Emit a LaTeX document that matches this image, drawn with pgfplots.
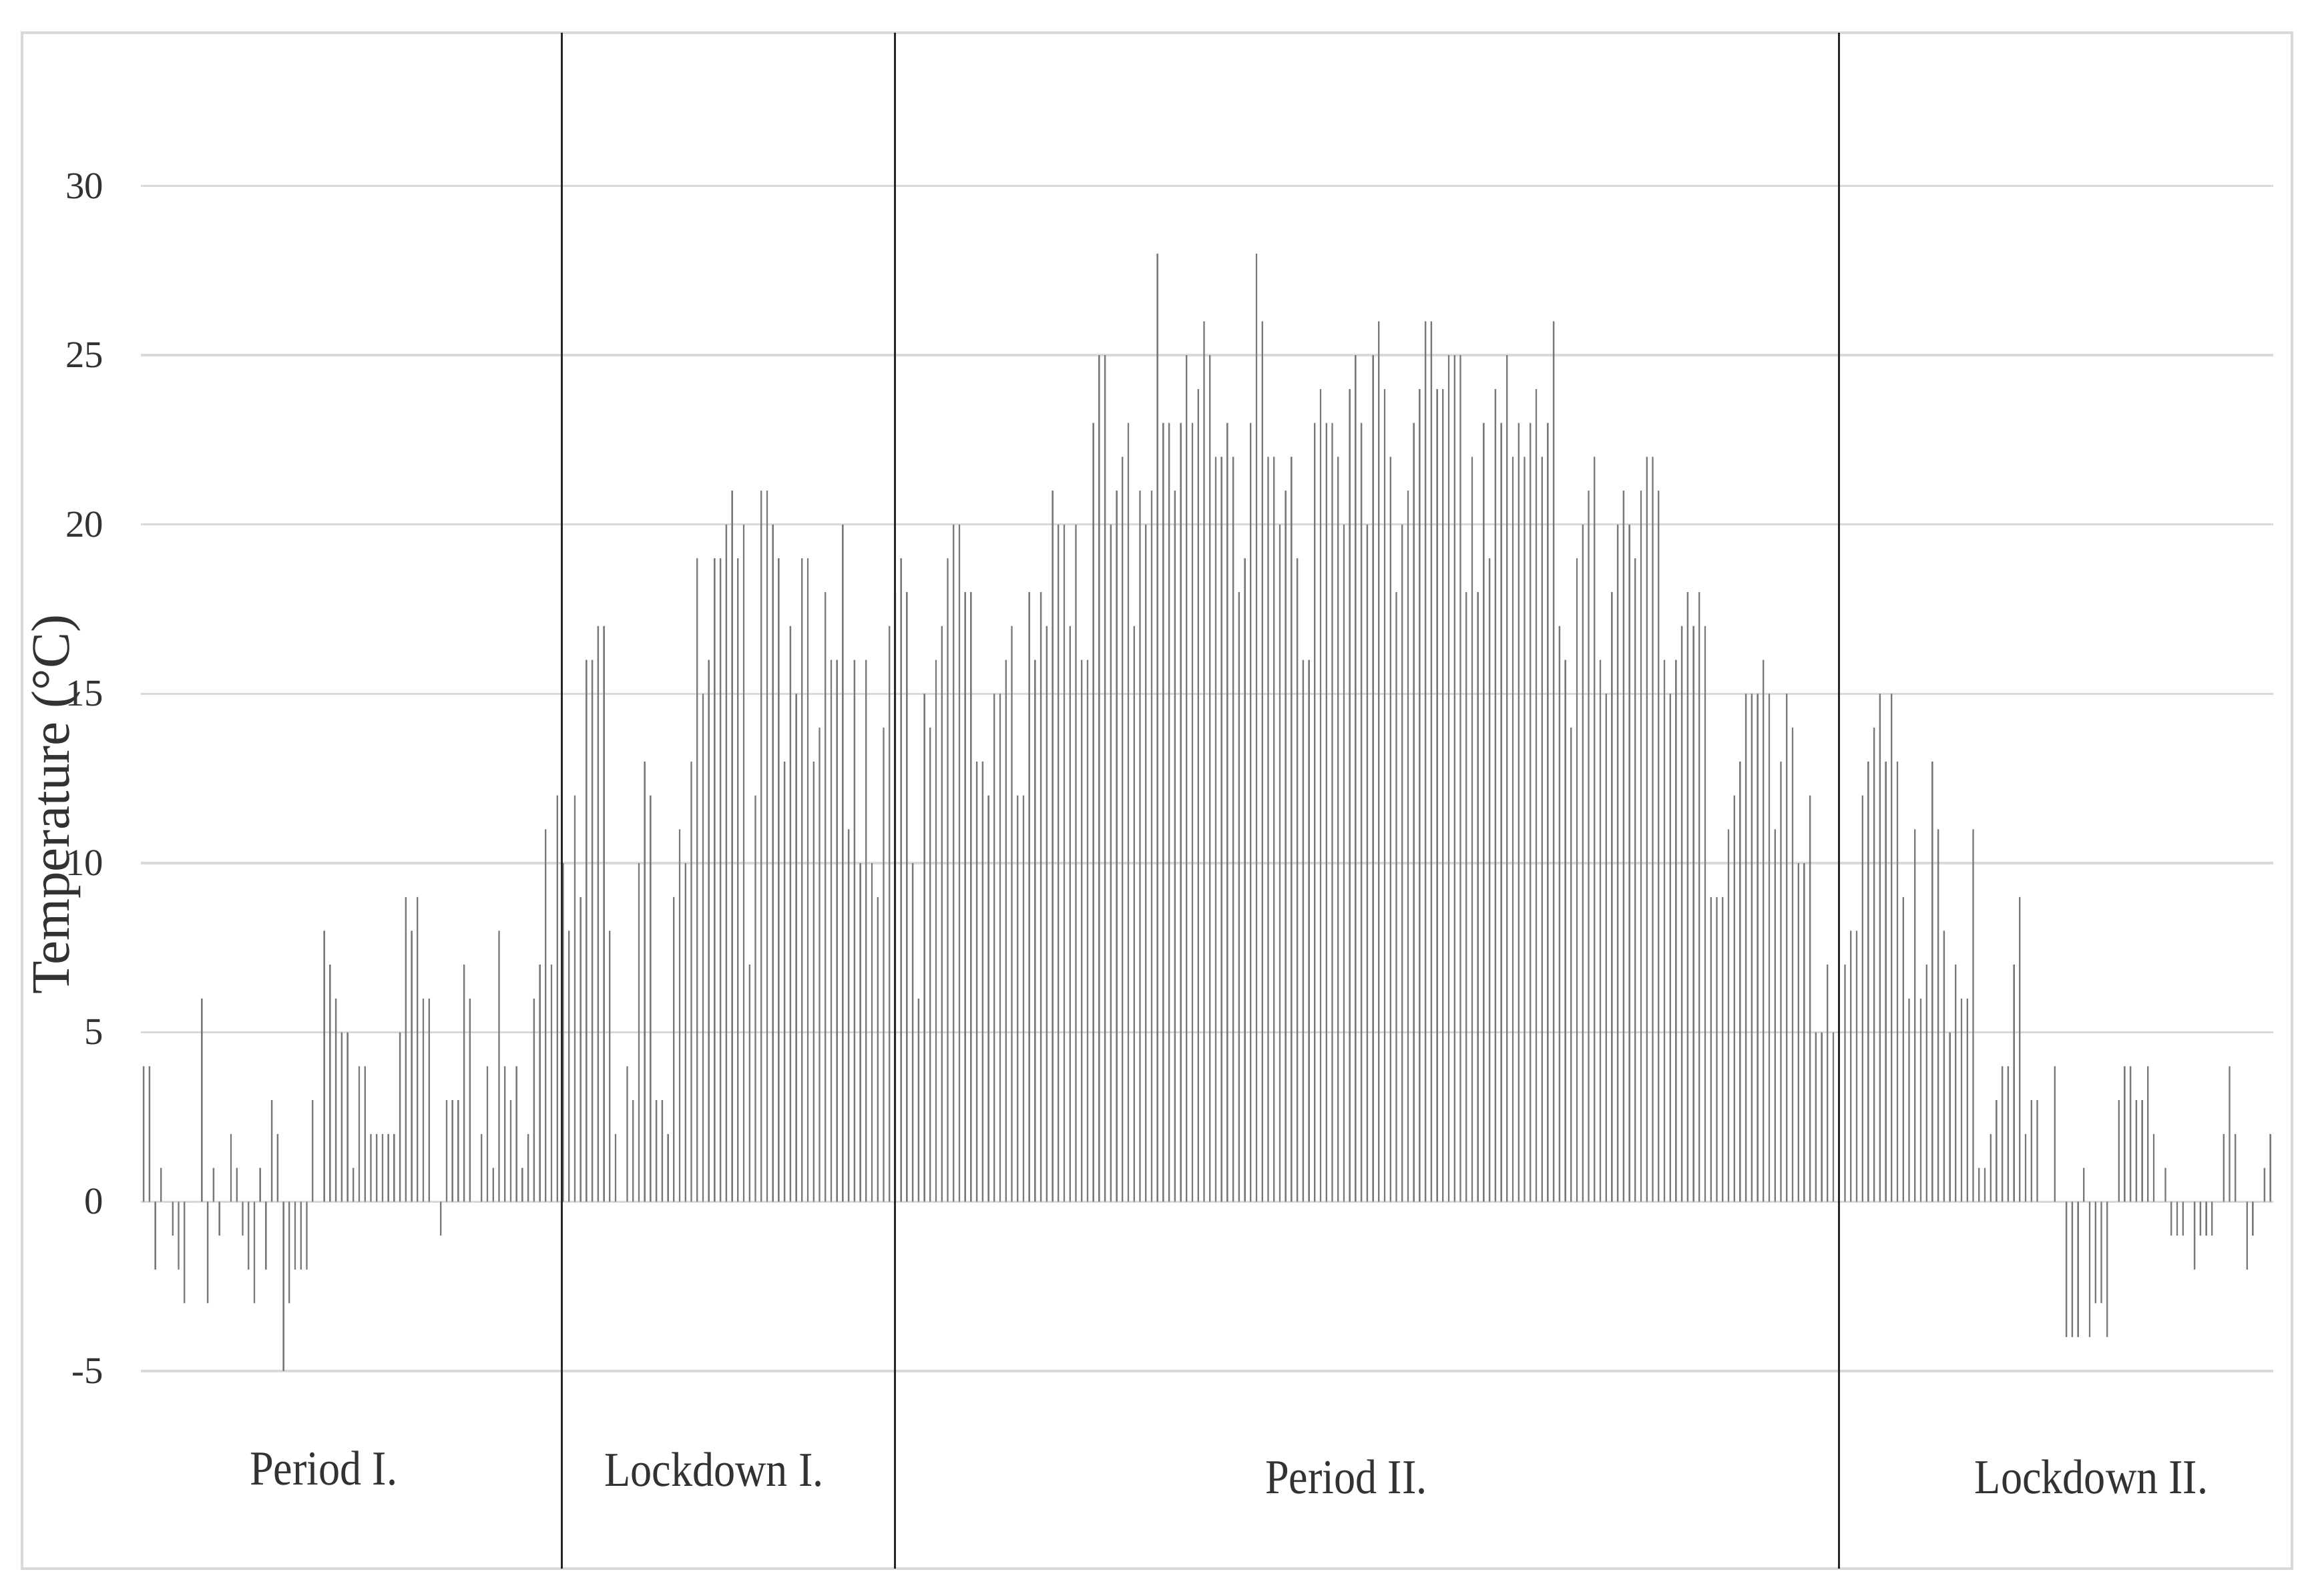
\documentclass[border=0pt]{standalone}
\usepackage{fontspec}
\setmainfont{Liberation Serif}
\usepackage{pgfplots}
\pgfplotsset{compat=1.18}
\definecolor{bargray}{RGB}{120,120,120}
\definecolor{gridgray}{RGB}{217,217,217}
\definecolor{txt}{RGB}{50,50,50}

\begin{document}
\begin{tikzpicture}
\begin{axis}[
    scale only axis,
    width=433.4pt, height=240.9pt,
    xmin=-0.5, xmax=365.5,
    ymin=-5, ymax=30,
    axis line style={draw=none},
    xtick=\empty,
    ytick={-5,0,5,10,15,20,25,30},
    yticklabels={-5,0,5,10,15,20,25,30},
    major tick length=0pt,
    yticklabel style={font=\fontsize{7.7}{9}\selectfont, text=txt, xshift=-4.0pt},
    ymajorgrids=true,
    grid style={gridgray, line width=0.45pt},
    ybar, bar width=0.27,
    clip=false,
]
% daily temperature, one bar per day
\addplot[fill=bargray, draw=none] coordinates {
(0,4)(1,4)(2,-2)(3,1)(4,0)(5,-1)(6,-2)(7,-3)(8,0)(9,0)
(10,6)(11,-3)(12,1)(13,-1)(14,0)(15,2)(16,1)(17,-1)(18,-2)(19,-3)
(20,1)(21,-2)(22,3)(23,2)(24,-5)(25,-3)(26,-2)(27,-2)(28,-2)(29,3)
(30,0)(31,8)(32,7)(33,6)(34,5)(35,5)(36,1)(37,4)(38,4)(39,2)
(40,2)(41,2)(42,2)(43,2)(44,5)(45,9)(46,8)(47,9)(48,6)(49,6)
(50,0)(51,-1)(52,3)(53,3)(54,3)(55,7)(56,6)(57,0)(58,2)(59,4)
(60,1)(61,8)(62,4)(63,3)(64,4)(65,1)(66,2)(67,6)(68,7)(69,11)
(70,7)(71,12)(72,10)(73,8)(74,12)(75,9)(76,16)(77,16)(78,17)(79,17)
(80,8)(81,2)(82,0)(83,4)(84,3)(85,10)(86,13)(87,12)(88,3)(89,3)
(90,2)(91,9)(92,11)(93,10)(94,13)(95,19)(96,15)(97,16)(98,19)(99,19)
(100,20)(101,21)(102,19)(103,20)(104,7)(105,12)(106,21)(107,21)(108,20)(109,19)
(110,13)(111,17)(112,15)(113,19)(114,19)(115,13)(116,14)(117,18)(118,16)(119,16)
(120,20)(121,11)(122,16)(123,10)(124,16)(125,10)(126,9)(127,14)(128,17)(129,18)
(130,19)(131,18)(132,10)(133,6)(134,15)(135,14)(136,16)(137,17)(138,19)(139,20)
(140,20)(141,18)(142,18)(143,13)(144,13)(145,12)(146,15)(147,15)(148,16)(149,17)
(150,12)(151,12)(152,18)(153,16)(154,18)(155,17)(156,21)(157,20)(158,20)(159,17)
(160,20)(161,16)(162,16)(163,23)(164,25)(165,25)(166,20)(167,21)(168,22)(169,23)
(170,17)(171,21)(172,20)(173,21)(174,28)(175,23)(176,23)(177,21)(178,23)(179,25)
(180,23)(181,24)(182,26)(183,25)(184,22)(185,22)(186,23)(187,22)(188,18)(189,19)
(190,23)(191,28)(192,26)(193,22)(194,22)(195,20)(196,21)(197,22)(198,19)(199,16)
(200,16)(201,23)(202,24)(203,23)(204,23)(205,22)(206,20)(207,24)(208,25)(209,23)
(210,20)(211,25)(212,26)(213,24)(214,22)(215,18)(216,20)(217,21)(218,23)(219,24)
(220,26)(221,26)(222,24)(223,24)(224,25)(225,25)(226,25)(227,18)(228,22)(229,18)
(230,23)(231,19)(232,24)(233,23)(234,25)(235,22)(236,23)(237,22)(238,23)(239,24)
(240,22)(241,23)(242,26)(243,17)(244,16)(245,14)(246,19)(247,20)(248,21)(249,22)
(250,16)(251,15)(252,18)(253,20)(254,21)(255,20)(256,19)(257,21)(258,22)(259,22)
(260,21)(261,16)(262,15)(263,16)(264,17)(265,18)(266,17)(267,18)(268,17)(269,9)
(270,9)(271,9)(272,11)(273,12)(274,13)(275,15)(276,15)(277,15)(278,16)(279,15)
(280,11)(281,13)(282,15)(283,14)(284,10)(285,10)(286,12)(287,5)(288,5)(289,7)
(290,5)(291,5)(292,7)(293,8)(294,8)(295,12)(296,13)(297,14)(298,15)(299,13)
(300,15)(301,13)(302,9)(303,6)(304,11)(305,6)(306,7)(307,13)(308,11)(309,8)
(310,5)(311,7)(312,6)(313,6)(314,11)(315,1)(316,1)(317,2)(318,3)(319,4)
(320,4)(321,7)(322,9)(323,2)(324,3)(325,3)(326,0)(327,0)(328,4)(329,0)
(330,-4)(331,-4)(332,-4)(333,1)(334,-4)(335,-3)(336,-3)(337,-4)(338,0)(339,3)
(340,4)(341,4)(342,3)(343,3)(344,4)(345,2)(346,0)(347,1)(348,-1)(349,-1)
(350,-1)(351,0)(352,-2)(353,-1)(354,-1)(355,-1)(356,0)(357,2)(358,4)(359,2)
(360,0)(361,-2)(362,-1)(363,0)(364,1)(365,2)
};

% chart frame and picture size
\path (axis cs:-24.65,-11.63) rectangle (axis cs:372.5,35.49);
\draw[gridgray, line width=0.5pt] (axis cs:-20.85,-10.84) rectangle (axis cs:368.7,34.53);

% period separators
\draw[black!85, line width=0.4pt] (axis cs:71.8,-10.84) -- (axis cs:71.8,34.53);
\draw[black!85, line width=0.4pt] (axis cs:128.95,-10.84) -- (axis cs:128.95,34.53);
\draw[black!85, line width=0.4pt] (axis cs:290.95,-10.84) -- (axis cs:290.95,34.53);

% labels
\node[rotate=90, font=\fontsize{11}{13}\selectfont, text=txt] at (axis cs:-15,11.73) {Temperature (°C)};
\node[anchor=base, xscale=0.88, font=\fontsize{9.9}{12}\selectfont, text=txt] at (axis cs:30.9,-8.36) {Period I.};
\node[anchor=base, xscale=0.88, font=\fontsize{9.9}{12}\selectfont, text=txt] at (axis cs:97.9,-8.40) {Lockdown I.};
\node[anchor=base, xscale=0.88, font=\fontsize{9.9}{12}\selectfont, text=txt] at (axis cs:206.4,-8.62) {Period II.};
\node[anchor=base, xscale=0.88, font=\fontsize{9.9}{12}\selectfont, text=txt] at (axis cs:334.3,-8.62) {Lockdown II.};
\end{axis}
\end{tikzpicture}
\end{document}
